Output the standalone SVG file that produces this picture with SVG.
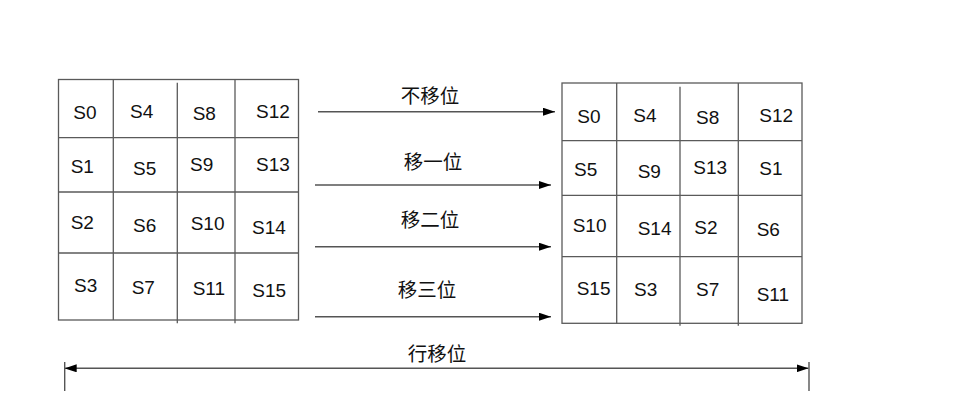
<svg xmlns="http://www.w3.org/2000/svg" width="954" height="414" viewBox="0 0 954 414">
<defs>
<marker id="ah" viewBox="0 0 12 8" refX="12" refY="4" markerWidth="12" markerHeight="8" markerUnits="userSpaceOnUse" orient="auto-start-reverse">
<path d="M0,0 L12,4 L0,8 Z" fill="#000"/>
</marker>
<style>
.g{fill:none;stroke:#5a5a5a;stroke-width:1.3}
.c{font-family:"Liberation Sans",Arial,sans-serif;font-size:19px;fill:#111}
.l{font-family:"Noto Sans CJK SC","Liberation Sans",sans-serif;font-size:19.5px;fill:#111;text-anchor:middle}
.a{stroke:#555;stroke-width:1.4;fill:none}
</style>
</defs>
<rect width="954" height="414" fill="#fff"/>
<g id="grid-left">
<rect class="g" x="58.5" y="79.5" width="240" height="240.5"/>
<line class="g" x1="113.3" y1="79.5" x2="113.3" y2="320"/>
<line class="g" x1="177.3" y1="82.7" x2="177.3" y2="323.3"/>
<line class="g" x1="235" y1="79.5" x2="235" y2="323.3"/>
<line class="g" x1="58.5" y1="137.7" x2="298.5" y2="137.7"/>
<line class="g" x1="58.5" y1="192" x2="298.5" y2="192"/>
<line class="g" x1="58.5" y1="253" x2="298.5" y2="253"/>
<text class="c" x="73.3" y="119.3">S0</text>
<text class="c" x="130" y="117.8">S4</text>
<text class="c" x="192.7" y="119.5">S8</text>
<text class="c" x="256" y="117.8">S12</text>
<text class="c" x="70.7" y="172.8">S1</text>
<text class="c" x="133" y="174.5">S5</text>
<text class="c" x="190" y="170.5">S9</text>
<text class="c" x="256" y="170.5">S13</text>
<text class="c" x="70.7" y="228.5">S2</text>
<text class="c" x="133" y="231.5">S6</text>
<text class="c" x="190.7" y="230">S10</text>
<text class="c" x="252" y="233.5">S14</text>
<text class="c" x="74" y="292">S3</text>
<text class="c" x="131.7" y="293.5">S7</text>
<text class="c" x="192.7" y="294.5">S11</text>
<text class="c" x="252.3" y="297">S15</text>
</g>
<g id="grid-right">
<rect class="g" x="562" y="83" width="240" height="240.3"/>
<line class="g" x1="616.7" y1="83" x2="616.7" y2="323.3"/>
<line class="g" x1="680" y1="86.7" x2="680" y2="325.7"/>
<line class="g" x1="738.3" y1="83" x2="738.3" y2="325.7"/>
<line class="g" x1="562" y1="140.7" x2="802" y2="140.7"/>
<line class="g" x1="562" y1="195.3" x2="802" y2="195.3"/>
<line class="g" x1="562" y1="256.7" x2="802" y2="256.7"/>
<text class="c" x="577.3" y="122.8">S0</text>
<text class="c" x="633.3" y="121.5">S4</text>
<text class="c" x="696" y="123.5">S8</text>
<text class="c" x="759.3" y="121.5">S12</text>
<text class="c" x="574" y="175.5">S5</text>
<text class="c" x="637.7" y="177.8">S9</text>
<text class="c" x="693.3" y="173.5">S13</text>
<text class="c" x="759.3" y="174.5">S1</text>
<text class="c" x="572.7" y="231.5">S10</text>
<text class="c" x="637.7" y="235.2">S14</text>
<text class="c" x="694.3" y="234">S2</text>
<text class="c" x="756.7" y="236">S6</text>
<text class="c" x="576.7" y="295">S15</text>
<text class="c" x="634" y="296.2">S3</text>
<text class="c" x="696" y="296">S7</text>
<text class="c" x="756.7" y="301">S11</text>
</g>
<g id="connectors">
<line class="a" x1="318" y1="111.7" x2="555" y2="111.7" marker-end="url(#ah)"/>
<line class="a" x1="315" y1="185" x2="551" y2="185" marker-end="url(#ah)"/>
<line class="a" x1="315" y1="246.7" x2="551" y2="246.7" marker-end="url(#ah)"/>
<line class="a" x1="315" y1="316.7" x2="551" y2="316.7" marker-end="url(#ah)"/>
<line class="a" x1="64.7" y1="368.3" x2="808.5" y2="368.3" marker-start="url(#ah)" marker-end="url(#ah)"/>
<line class="a" x1="64.7" y1="362" x2="64.7" y2="391"/>
<line class="a" x1="809" y1="362" x2="809" y2="391"/>
</g>
<g id="labels">
<text class="l" x="430" y="102.5">不移位</text>
<text class="l" x="433" y="168.5">移一位</text>
<text class="l" x="430" y="226.5">移二位</text>
<text class="l" x="427" y="296.5">移三位</text>
<text class="l" x="437" y="360.5">行移位</text>
</g>
</svg>
